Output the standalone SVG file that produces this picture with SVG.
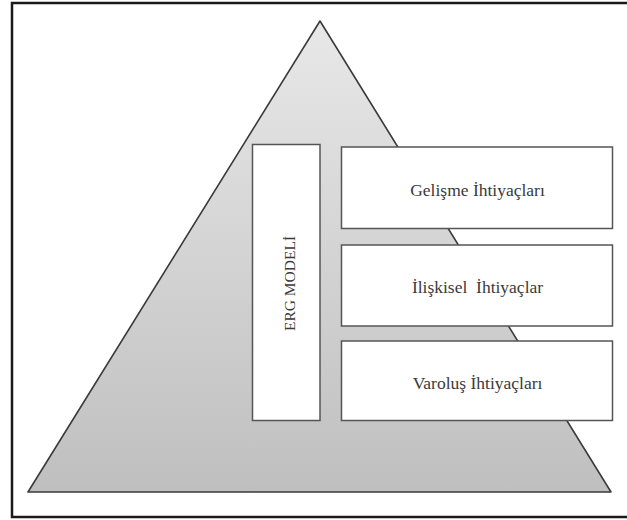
<svg xmlns="http://www.w3.org/2000/svg" width="627" height="520" viewBox="0 0 627 520">
  <style>
    .box { fill: #ffffff; stroke: #555555; stroke-width: 1.5; }
    .lbl { font-family: "Liberation Serif", "Times New Roman", serif; font-size: 17.5px; fill: #3a3a3a; text-anchor: middle; }
    .vlbl { font-size: 15.5px; }
  </style>
  <defs>
    <linearGradient id="pyr" x1="0" y1="0" x2="0" y2="1">
      <stop offset="0" stop-color="#e8e8e8"/>
      <stop offset="1" stop-color="#bfbfbf"/>
    </linearGradient>
  </defs>
  <rect x="0" y="0" width="627" height="520" fill="#ffffff"/>
  <rect id="frame" x="12" y="3" width="625" height="514" fill="#ffffff" stroke="#1a1a1a" stroke-width="2.5"/>
  <g id="pyramid">
    <polygon points="320,21 28,492 611,492" fill="url(#pyr)" stroke="#3a3a3a" stroke-width="1.6" stroke-linejoin="round"/>
  </g>
  <g id="erg">
    <rect class="box" x="252.5" y="144.5" width="67.5" height="276"/>
    <text class="lbl vlbl" transform="translate(295,283.5) rotate(-90)">ERG MODELİ</text>
  </g>
  <g id="gelisme">
    <rect class="box" x="341.5" y="147" width="271" height="81.5"/>
    <text class="lbl" x="477.5" y="195.5">Gelişme İhtiyaçları</text>
  </g>
  <g id="iliskisel">
    <rect class="box" x="341.5" y="245" width="271" height="81"/>
    <text class="lbl" x="477.5" y="293" xml:space="preserve">İlişkisel  İhtiyaçlar</text>
  </g>
  <g id="varolus">
    <rect class="box" x="341.5" y="341" width="271" height="79.5"/>
    <text class="lbl" x="477.5" y="388.5">Varoluş İhtiyaçları</text>
  </g>
  <g id="connectors"></g>
</svg>
